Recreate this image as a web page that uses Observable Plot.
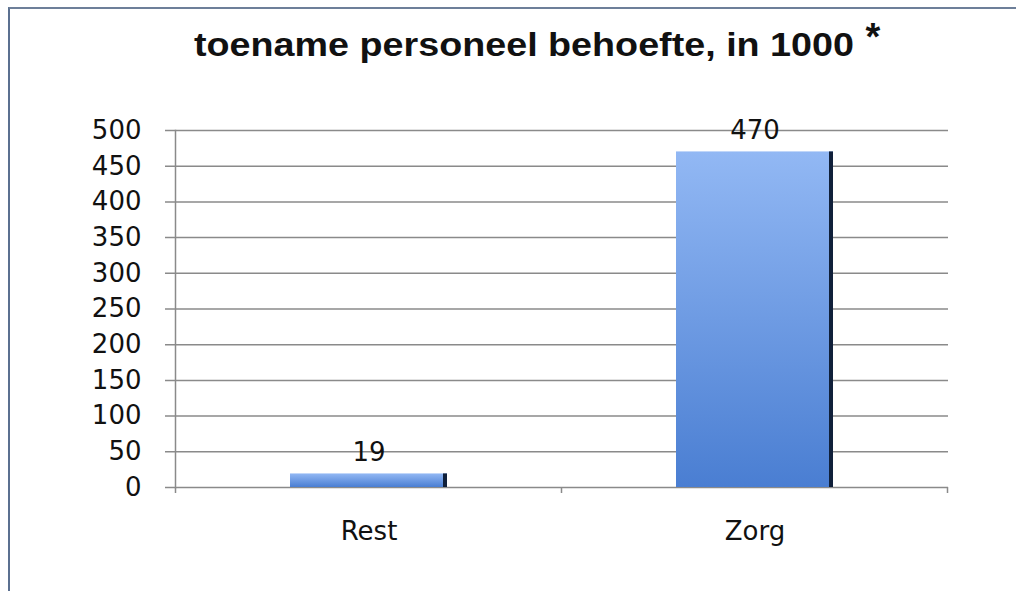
<!DOCTYPE html>
<html>
<head>
<meta charset="utf-8">
<script src="https://cdn.jsdelivr.net/npm/d3@7"></script>
<script src="https://cdn.jsdelivr.net/npm/@observablehq/plot@0.6"></script>
<style>
  html, body { margin: 0; padding: 0; background: #fff; }
  #wrap { position: relative; width: 1016px; height: 591px; overflow: hidden; background: #fff; }
  #border { position: absolute; left: 8px; top: 7px; right: 0; bottom: -5px; border-left: 2px solid #5b7090; border-top: 2px solid #6d7f99; pointer-events: none; }
  #title { display: block; }
  #chart svg { display: block; }
</style>
</head>
<body>
<div id="wrap">
  <svg id="title" width="1016" height="91">
    <text x="524" y="56" text-anchor="middle" font-family="Liberation Sans, Arial, sans-serif" font-weight="bold" font-size="34" fill="#111" textLength="660" lengthAdjust="spacingAndGlyphs">toename personeel behoefte, in 1000</text>
    <text x="873" y="50" text-anchor="middle" font-family="Liberation Sans, Arial, sans-serif" font-weight="bold" font-size="38" fill="#111">*</text>
  </svg>
  <div id="chart"></div>
  <div id="border"></div>
</div>
<script>
const categories = ["Rest", "Zorg"];
const values = [19, 470];
const yTicks = [0, 50, 100, 150, 200, 250, 300, 350, 400, 450, 500];

const data = categories.map((c, i) => ({category: c, value: values[i]}));

const defs = () => {
  const svgNS = "http://www.w3.org/2000/svg";
  const d = document.createElementNS(svgNS, "defs");
  d.innerHTML = `<linearGradient id="barGrad" x1="0" y1="0" x2="0" y2="1">
      <stop offset="0%" stop-color="#92b8f4"/>
      <stop offset="100%" stop-color="#4a7ed2"/>
    </linearGradient>`;
  return d;
};

// small downward ticks on the x baseline at the band boundaries, computed from the scale
const bandTicks = (index, scales, channels, dims) => {
  const svgNS = "http://www.w3.org/2000/svg";
  const g = document.createElementNS(svgNS, "g");
  const x = scales.x;
  const step = x.step ? x.step() : (dims.width - dims.marginLeft - dims.marginRight) / categories.length;
  const bw = x.bandwidth();
  const edges = [];
  categories.forEach((c, i) => {
    const center = x(c) + bw / 2;
    edges.push(center - step / 2);
    if (i === categories.length - 1) edges.push(center + step / 2);
  });
  const y0 = scales.y(0);
  edges.forEach(e => {
    const l = document.createElementNS(svgNS, "line");
    l.setAttribute("x1", e); l.setAttribute("x2", e);
    l.setAttribute("y1", y0); l.setAttribute("y2", y0 + 6);
    l.setAttribute("stroke", "#8a8a8a");
    l.setAttribute("stroke-width", "1.5");
    g.appendChild(l);
  });
  return g;
};

const chart = Plot.plot({
  width: 1016,
  height: 500,
  marginLeft: 175,
  marginRight: 68,
  marginTop: 39,
  marginBottom: 104,
  style: {fontFamily: "DejaVu Sans, sans-serif", fontSize: "26px", color: "#111", background: "transparent"},
  x: {domain: categories, paddingInner: 0.594, paddingOuter: 0.297, label: null},
  y: {domain: [0, 500], label: null},
  marks: [
    defs,
    Plot.ruleY(yTicks, {stroke: "#8a8a8a", strokeWidth: 1.5, insetLeft: -10}),
    Plot.axisY({ticks: yTicks, tickSize: 0, tickPadding: 34, fontSize: 26, label: null, fill: "#111"}),
    Plot.axisX({tickSize: 0, tickPadding: 34, fontSize: 26, label: null, fill: "#111"}),
    Plot.frame({anchor: "left", stroke: "#8a8a8a", strokeWidth: 1.5}),
    Plot.barY(data, {x: "category", y: "value", fill: "url(#barGrad)"}),
    Plot.barY(data, {x: "category", y: "value", fill: "#10203a", insetLeft: 153}),
    bandTicks,
    Plot.text(data, {x: "category", y: "value", text: d => String(d.value), dy: -21, fontSize: 26, fill: "#111"})
  ]
});
document.getElementById("chart").appendChild(chart);
</script>
</body>
</html>
